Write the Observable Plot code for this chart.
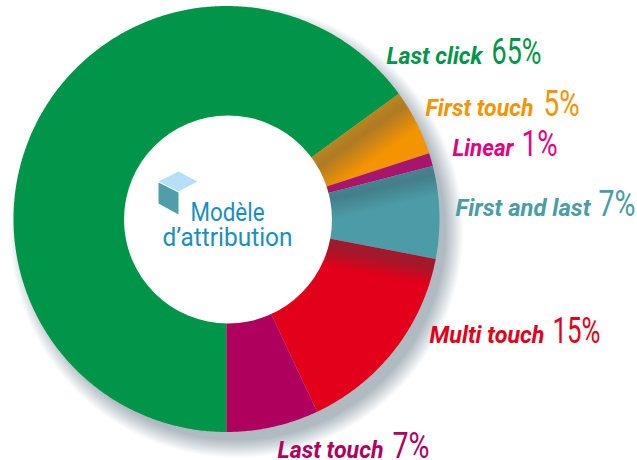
<!DOCTYPE html>
<html>
<head>
<meta charset="utf-8">
<script src="https://cdn.jsdelivr.net/npm/d3@7"></script>
<script src="https://cdn.jsdelivr.net/npm/@observablehq/plot@0.6"></script>
<style>
html,body{margin:0;padding:0;background:#fff;}
svg{display:block;}
</style>
</head>
<body>
<div id="chart"></div>
<script>
// Data
const categories = ["Last click", "First touch", "Linear", "First and last", "Multi touch", "Last touch"];
const shares = [65, 5, 1, 7, 15, 7];
const percentLabels = ["65%", "5%", "1%", "7%", "15%", "7%"];
const startTurn = 0.5; // the ring starts at six o'clock and runs clockwise

// Styles and layout, in page pixels
const sliceFills = ["#009548", "url(#g1)", "#a8146e", "url(#g3)", "url(#g4)", "url(#g5)"];
const labelColors = ["#009548", "#f39400", "#e0057c", "#4b9ca6", "#e2001a", "#b0005e"];
const cx = 226.5, cy = 219, outerR = 213, innerR = 104, holeCx = 227.5;
const nameX = [386, 425, 452, 455, 429, 277];
const nameW = [96, 108, 61, 135, 115, 106];
const pctX = [491, 543, 521, 598, 552, 392];
const pctW = [50, 36, 36, 37, 48, 37];
const baseY = [63, 115, 155, 215, 342, 457];

function band(cxx, cyy, r0, r1, t0, t1) {
  const n = Math.max(2, Math.ceil((t1 - t0) * 720));
  return d3.range(n + 1).map(k => {
    const a = 2 * Math.PI * (t0 + (t1 - t0) * k / n);
    return {
      x1: cxx + r0 * Math.sin(a), y1: cyy - r0 * Math.cos(a),
      x2: cxx + r1 * Math.sin(a), y2: cyy - r1 * Math.cos(a)
    };
  });
}

// Ring geometry derived from the shares
let cum = 0;
const total = d3.sum(shares);
const slices = shares.map((v, i) => {
  const t0 = startTurn + cum / total;
  cum += v;
  const t1 = startTurn + cum / total;
  return {pts: band(cx, cy, innerR - 6, outerR, t0, t1), fill: sliceFills[i]};
});

const svgNS = "http://www.w3.org/2000/svg";
function addStops(g, stops) {
  stops.forEach(([o, c]) => {
    const s = document.createElementNS(svgNS, "stop");
    s.setAttribute("offset", o);
    s.setAttribute("stop-color", c);
    g.appendChild(s);
  });
  return g;
}
function grad(id, x1, y1, x2, y2, stops) {
  const g = document.createElementNS(svgNS, "linearGradient");
  g.setAttribute("id", id);
  g.setAttribute("gradientUnits", "userSpaceOnUse");
  [["x1", x1], ["y1", y1], ["x2", x2], ["y2", y2]].forEach(([k, v]) => g.setAttribute(k, v));
  return addStops(g, stops);
}
const shadowCx = cx + 10, shadowCy = cy + 12, shadowR = 227;
const defsMark = () => {
  const d = document.createElementNS(svgNS, "defs");
  d.appendChild(grad("g1", 398, 96, 420, 127, [[0, "#b98420"], [0.3, "#ae7a24"], [1, "#f39400"]]));
  d.appendChild(grad("g3", 431, 165, 438, 195, [[0, "#458490"], [0.35, "#437f8a"], [1, "#4b9ca6"]]));
  d.appendChild(grad("g4", 435, 257, 430, 285, [[0, "#a3182b"], [0.35, "#a3182b"], [1, "#e2001a"]]));
  d.appendChild(grad("g5", 226.5, 0, 244, 1, [[0, "#8a1c64"], [0.2, "#8d1a63"], [1, "#b0005e"]]));
  const r = document.createElementNS(svgNS, "radialGradient");
  r.setAttribute("id", "shade");
  r.setAttribute("gradientUnits", "userSpaceOnUse");
  r.setAttribute("cx", shadowCx); r.setAttribute("cy", shadowCy); r.setAttribute("r", shadowR);
  addStops(r, [[0, "#b0bbc1"], [0.92, "#b0bbc1"], [0.96, "#d6dce0"], [1, "#ffffff"]]);
  d.appendChild(r);
  return d;
};

const nameFont = {fontFamily: "Roboto", fontStyle: "italic", fontWeight: 700, fontSize: 23, lineAnchor: "bottom", textAnchor: "start"};
const pctFont = {fontFamily: "Roboto", fontSize: 37, lineAnchor: "bottom", textAnchor: "start"};
const rows = categories.map((c, i) => ({name: c, pct: percentLabels[i], nx: nameX[i], px: pctX[i], y: baseY[i], color: labelColors[i]}));

const plot = Plot.plot({
  width: 637, height: 460, margin: 0,
  x: {domain: [0, 637], range: [0, 637], axis: null},
  y: {domain: [0, 460], range: [0, 460], axis: null},
  color: {type: "identity"},
  marks: [
    defsMark,
    Plot.area(band(shadowCx, shadowCy, 0, shadowR, 0, 1), {x1: "x1", y1: "y1", x2: "x2", y2: "y2", fill: "url(#shade)"}),
    ...slices.map(s => Plot.area(s.pts, {x1: "x1", y1: "y1", x2: "x2", y2: "y2", fill: s.fill})),
    Plot.dot([{x: holeCx, y: cy}], {x: "x", y: "y", r: innerR, fill: "#fff", stroke: "none"}),
    Plot.text(rows, {x: "nx", y: "y", text: "name", fill: "color", ...nameFont}),
    Plot.text(rows, {x: "px", y: "y", text: "pct", fill: "color", ...pctFont}),
    // cube pictogram and centre title
    Plot.line([[158, 181], [178, 171], [197, 181], [178, 191]], {fill: "#b5e0f7", stroke: "none"}),
    Plot.line([[158, 182], [178, 192], [178, 214], [158, 203]], {fill: "#4f9ea9", stroke: "none"}),
    Plot.text([["Modèle", 190, 220], ["d’attribution", 162, 245]], {
      x: d => d[1], y: d => d[2], text: d => d[0], fill: "#1a8fbf",
      fontFamily: "Roboto", fontSize: 25, lineAnchor: "bottom", textAnchor: "start"
    })
  ]
});
// Fit each text run to the width measured in the reference
const fitted = new Map([
  ...categories.map((c, i) => [c, nameW[i]]),
  ...percentLabels.map((p, i) => [p, pctW[i]]),
  ["Modèle", 74], ["d’attribution", 130]
]);
plot.querySelectorAll("text").forEach(t => {
  const w = fitted.get(t.textContent);
  if (w) {
    t.setAttribute("textLength", w);
    t.setAttribute("lengthAdjust", "spacingAndGlyphs");
  }
});
document.getElementById("chart").appendChild(plot);
</script>
</body>
</html>
